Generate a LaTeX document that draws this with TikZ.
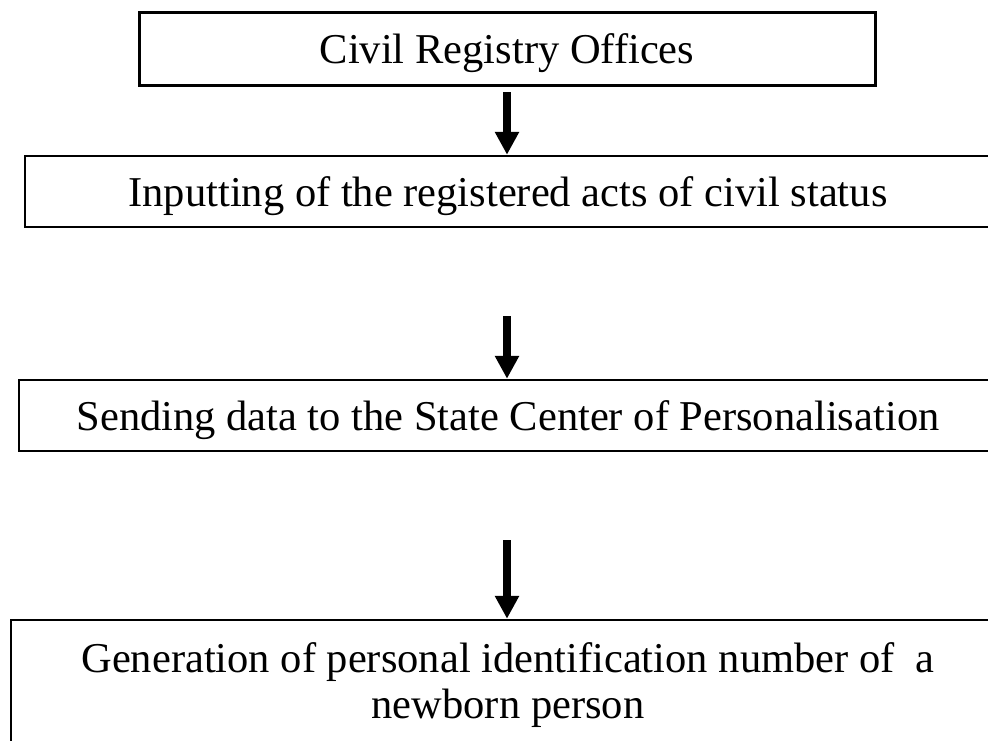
\documentclass[tikz,border=0pt]{standalone}
\usepackage{fontspec}
\setmainfont{Liberation Serif}
\usetikzlibrary{arrows.meta}
\tikzset{
  flowbox/.style={draw=black, line width=2.5pt, inner sep=0pt, align=center,
    text height=34pt, text depth=5pt,
    font=\fontsize{42.5}{49}\selectfont},
  flowarrow/.style={line width=8pt, -{Triangle[length=23pt,width=23pt]}}
}
\begin{document}
\begin{tikzpicture}[x=1pt,y=-1pt]
\clip (0,0) rectangle (988,740);
\fill[white] (0,0) rectangle (988,740);
\node[flowbox, line width=3pt, minimum width=736pt, minimum height=73pt] (b1) at (507,48.5) {Civil Registry Offices};
\node[flowbox, minimum width=966pt, minimum height=71pt] (b2) at (508,191.5) {Inputting of the registered acts of civil status};
\node[flowbox, minimum width=978pt, minimum height=71pt] (b3) at (508,415.5) {Sending data to the State Center of Personalisation};
\node[draw=black, line width=2.5pt, inner sep=0pt, minimum width=994pt, minimum height=140pt] (b4) at (508,690) {};
\node[font=\fontsize{42.5}{49}\selectfont, inner sep=0pt] (t4a) at (508,662) {Generation of personal identification number of \ a};
\node[font=\fontsize{42.5}{49}\selectfont, inner sep=0pt] (t4b) at (508,708) {newborn person};
\coordinate (a1s) at (507,92);
\coordinate (a2s) at (507,316);
\coordinate (a3s) at (507,540);
\draw[flowarrow] (a1s) -- (a1s |- b2.north);
\draw[flowarrow] (a2s) -- (a2s |- b3.north);
\draw[flowarrow] (a3s) -- (a3s |- b4.north);
\end{tikzpicture}
\end{document}
